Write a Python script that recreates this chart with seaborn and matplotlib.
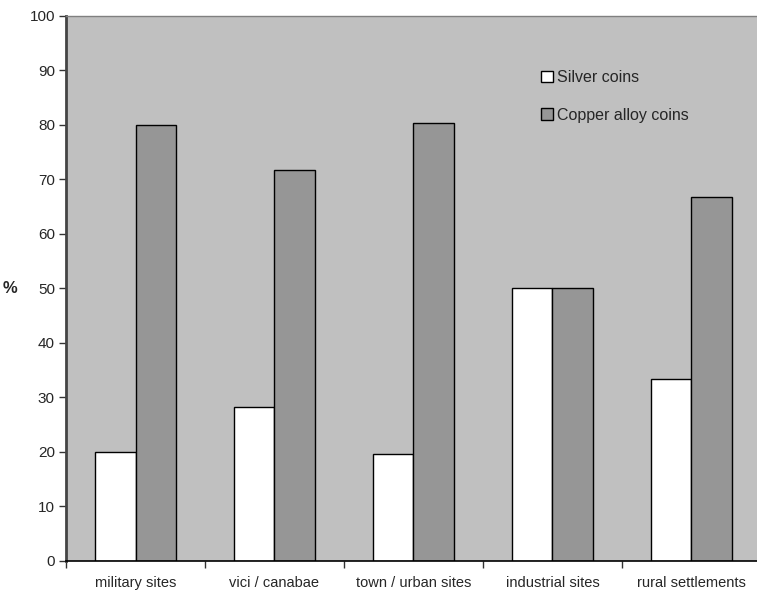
import matplotlib.pyplot as plt
import pandas as pd
import seaborn as sns

# Data
sites = ['military sites', 'vici / canabae', 'town / urban sites', 'industrial sites', 'rural settlements']
silver = [20.0, 28.2, 19.6, 50.0, 33.3]
copper = [80.0, 71.8, 80.4, 50.0, 66.7]
series = ['Silver coins', 'Copper alloy coins']
colors = ['#FFFFFF', '#969696']

df = pd.DataFrame({
    'site': sites * 2,
    'coin': [series[0]] * len(sites) + [series[1]] * len(sites),
    'value': silver + copper,
})

sns.set_style('white')
plt.rcParams['font.family'] = ['Liberation Sans', 'DejaVu Sans']

fig = plt.figure(figsize=(7.57, 5.91), dpi=100)
ax = fig.add_axes([0.0872, 0.0508, 0.918, 0.9225])
ax.set_facecolor('#C0C0C0')

sns.barplot(data=df, x='site', y='value', hue='coin', order=sites, hue_order=series,
            palette=colors, width=0.58, edgecolor='black', linewidth=1, saturation=1,
            ax=ax)

ax.set_xlim(-0.5, len(sites) - 0.5)
ax.set_ylim(0, 100)
ax.set_yticks(range(0, 101, 10))
ax.tick_params(axis='y', left=True, direction='out', length=5, width=1, color='#333333',
               labelsize=11, pad=3)

# category labels centred, tick marks between categories
ax.set_xticks(range(len(sites)))
ax.set_xticklabels(sites)
ax.tick_params(axis='x', which='major', bottom=True, length=0, labelsize=10.5, pad=10.5)
ax.set_xticks([i - 0.5 for i in range(len(sites) + 1)], minor=True)
ax.tick_params(axis='x', which='minor', bottom=True, direction='out', length=5, width=1,
               color='#333333')

ax.set_xlabel('')
ax.set_ylabel('%', rotation=0, fontsize=12, fontweight='bold', labelpad=14, va='center')

for side in ['left', 'bottom', 'top', 'right']:
    ax.spines[side].set_visible(True)
ax.spines['left'].set_color('#444444')
ax.spines['left'].set_linewidth(2)
ax.spines['bottom'].set_color('black')
ax.spines['bottom'].set_linewidth(1.2)
ax.spines['top'].set_color('#808080')
ax.spines['top'].set_linewidth(1)
ax.spines['right'].set_visible(False)

handles, labels = ax.get_legend_handles_labels()
ax.legend(handles, labels, loc='upper left', bbox_to_anchor=(0.684, 0.9),
          frameon=False, fontsize=11.5, handlelength=0.7, handleheight=0.7,
          handletextpad=0.25, labelspacing=1.4, borderpad=0, borderaxespad=0)

fig.savefig('out.png', dpi=100)
